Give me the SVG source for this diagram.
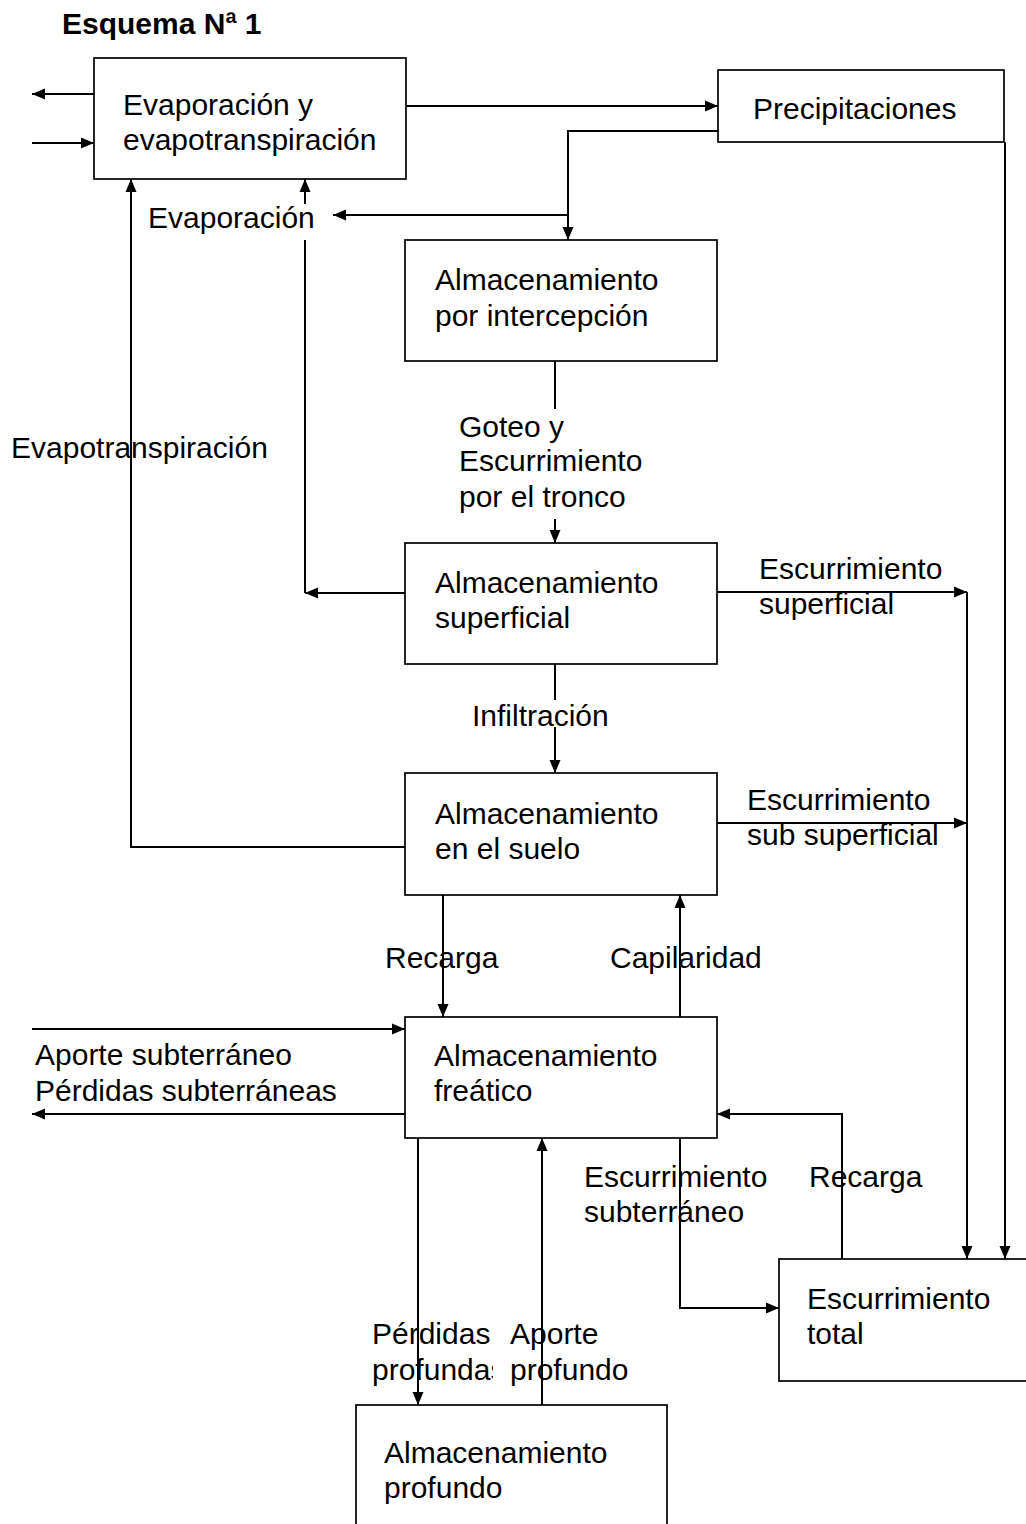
<svg xmlns="http://www.w3.org/2000/svg" width="1026" height="1524" viewBox="0 0 1026 1524">
<style>
text{font-family:"Liberation Sans",Arial,sans-serif;font-size:30px;fill:#000}
.title{font-weight:bold}
.box{fill:#fff;stroke:#000;stroke-width:1.7}
.c{fill:none;stroke:#000;stroke-width:2}
.a{fill:none;stroke:#000;stroke-width:2;marker-end:url(#ah)}
</style>
<defs>
<marker id="ah" markerUnits="userSpaceOnUse" markerWidth="14" markerHeight="12" refX="13" refY="6" orient="auto">
<path d="M0,0.5 L13,6 L0,11.5 z" fill="#000"/>
</marker>
<clipPath id="clipPf"><rect x="360" y="1350" width="133" height="45"/></clipPath>
</defs>
<rect width="1026" height="1524" fill="#fff"/>
<text class="title" x="62" y="34">Esquema Nª 1</text>

<g id="nodes">
<g id="n-evap">
<rect class="box" x="94" y="58" width="312" height="121"/>
<text x="123" y="115">Evaporación y</text>
<text x="123" y="150">evapotranspiración</text>
</g>
<g id="n-precip">
<rect class="box" x="718" y="70" width="286" height="72"/>
<text x="753" y="119">Precipitaciones</text>
</g>
<g id="n-intercep">
<rect class="box" x="405" y="240" width="312" height="121"/>
<text x="435" y="290">Almacenamiento</text>
<text x="435" y="326">por intercepción</text>
</g>
<g id="n-superf">
<rect class="box" x="405" y="543" width="312" height="121"/>
<text x="435" y="593">Almacenamiento</text>
<text x="435" y="628">superficial</text>
</g>
<g id="n-suelo">
<rect class="box" x="405" y="773" width="312" height="122"/>
<text x="435" y="824">Almacenamiento</text>
<text x="435" y="859">en el suelo</text>
</g>
<g id="n-freatico">
<rect class="box" x="405" y="1017" width="312" height="121"/>
<text x="434" y="1066">Almacenamiento</text>
<text x="434" y="1101">freático</text>
</g>
<g id="n-total">
<rect class="box" x="779" y="1259" width="260" height="122"/>
<text x="807" y="1309">Escurrimiento</text>
<text x="807" y="1344">total</text>
</g>
<g id="n-profundo">
<rect class="box" x="356" y="1405" width="311" height="140"/>
<text x="384" y="1463">Almacenamiento</text>
<text x="384" y="1498">profundo</text>
</g>
</g>

<g id="connectors">
<line class="a" x1="94" y1="94" x2="32" y2="94"/>
<line class="a" x1="32" y1="143" x2="94" y2="143"/>
<line class="a" x1="406" y1="106" x2="718" y2="106"/>
<polyline class="a" points="718,131 568,131 568,240"/>
<line class="a" x1="568" y1="215" x2="333" y2="215"/>
<line class="a" x1="405" y1="593" x2="305" y2="593"/>
<line class="c" x1="305" y1="593" x2="305" y2="240"/>
<line class="a" x1="305" y1="204" x2="305" y2="179"/>
<polyline class="a" points="405,847 131,847 131,179"/>
<line class="c" x1="555" y1="361" x2="555" y2="409"/>
<line class="a" x1="555" y1="519" x2="555" y2="543"/>
<line class="a" x1="717" y1="592" x2="967" y2="592"/>
<line class="a" x1="967" y1="592" x2="967" y2="1259"/>
<line class="c" x1="555" y1="664" x2="555" y2="700"/>
<line class="a" x1="555" y1="727" x2="555" y2="773"/>
<line class="a" x1="717" y1="823" x2="967" y2="823"/>
<line class="a" x1="443" y1="895" x2="443" y2="1017"/>
<line class="a" x1="680" y1="1017" x2="680" y2="895"/>
<line class="a" x1="32" y1="1029" x2="405" y2="1029"/>
<line class="a" x1="405" y1="1114" x2="32" y2="1114"/>
<polyline class="a" points="842,1259 842,1114 717,1114"/>
<line class="a" x1="418" y1="1138" x2="418" y2="1405"/>
<line class="a" x1="542" y1="1405" x2="542" y2="1138"/>
<polyline class="a" points="680,1138 680,1308 779,1308"/>
<line class="a" x1="1005" y1="142" x2="1005" y2="1259"/>
</g>

<g id="labels">
<text x="148" y="228">Evaporación</text>
<text x="11" y="458">Evapotranspiración</text>
<text x="459" y="437">Goteo y</text>
<text x="459" y="471">Escurrimiento</text>
<text x="459" y="507">por el tronco</text>
<text x="759" y="579">Escurrimiento</text>
<text x="759" y="614">superficial</text>
<text x="472" y="726">Infiltración</text>
<text x="747" y="810">Escurrimiento</text>
<text x="747" y="845">sub superficial</text>
<text x="385" y="968">Recarga</text>
<text x="610" y="968">Capilaridad</text>
<text x="35" y="1065">Aporte subterráneo</text>
<text x="35" y="1101">Pérdidas subterráneas</text>
<text x="584" y="1187">Escurrimiento</text>
<text x="584" y="1222">subterráneo</text>
<text x="809" y="1187">Recarga</text>
<text x="372" y="1344">Pérdidas</text>
<text x="372" y="1380" clip-path="url(#clipPf)">profundas</text>
<text x="510" y="1344">Aporte</text>
<text x="510" y="1380">profundo</text>
</g>
</svg>
